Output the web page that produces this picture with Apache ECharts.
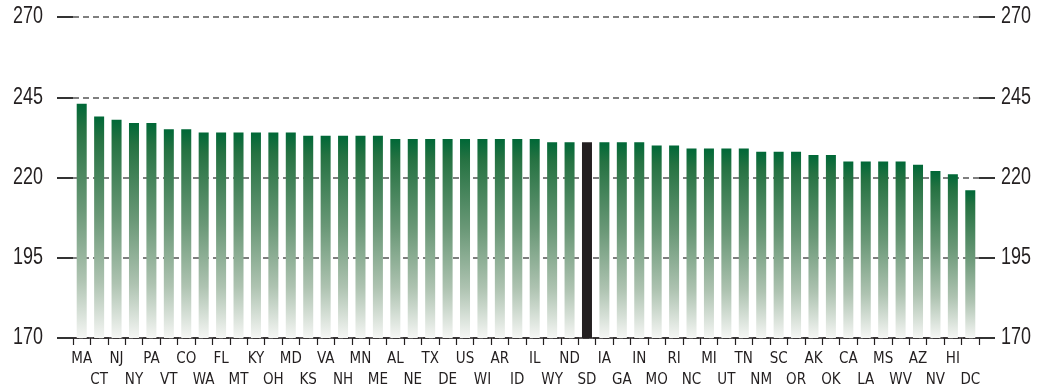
<!DOCTYPE html>
<html>
<head>
<meta charset="utf-8">
<script src="https://cdn.jsdelivr.net/npm/echarts@6/dist/echarts.min.js"></script>
<style>
  html, body { margin: 0; padding: 0; background: #ffffff; }
  #chart { width: 1052px; height: 389px; }
</style>
</head>
<body>
<div id="chart"></div>
<script>
// Average scale scores by jurisdiction, highest to lowest
const states = ['MA','CT','NJ','NY','PA','VT','CO','WA','FL','MT','KY','OH','MD','KS','VA','NH','MN','ME',
  'AL','NE','TX','DE','US','WI','AR','ID','IL','WY','ND','SD','IA','GA','IN','MO','RI','NC','MI','UT',
  'TN','NM','SC','OR','AK','OK','CA','LA','MS','WV','AZ','NV','HI','DC'];
const scores = [243,239,238,237,237,235,235,234,234,234,234,234,234,233,233,233,233,233,
  232,232,232,232,232,232,232,232,232,231,231,231,231,231,231,230,230,229,229,229,
  229,228,228,228,227,227,225,225,225,225,224,222,221,216];
const highlighted = 'SD';
const yTicks = [170, 195, 220, 245, 270];

const GRID = { left: 73, right: 73, top: 17, bottom: 51, containLabel: false, outerBoundsMode: 'none' };
const FONT_X = "'DejaVu Sans Condensed', 'Liberation Sans', sans-serif";
const FONT_Y = "'Liberation Sans', 'DejaVu Sans Condensed', sans-serif";
const INK = '#231f20';

const greenFade = new echarts.graphic.LinearGradient(0, 0, 0, 1, [
  { offset: 0, color: '#006837' },
  { offset: 0.1, color: '#257242' },
  { offset: 0.45, color: '#6a9877' },
  { offset: 0.75, color: '#aec3b1' },
  { offset: 1, color: '#f5f6f4' }
]);

const barData = states.map((s, i) => ({
  value: scores[i],
  itemStyle: { color: s === highlighted ? INK : greenFade }
}));

function valueAxis(side) {
  return {
    type: 'value',
    position: side,
    min: yTicks[0],
    max: yTicks[yTicks.length - 1],
    interval: yTicks[1] - yTicks[0],
    axisLine: { show: false },
    axisTick: { show: true, inside: false, length: 16, lineStyle: { color: '#333', width: 2 } },
    // numbers are drawn below as condensed text
    axisLabel: { show: false },
    splitLine: side === 'left'
      ? { show: true, lineStyle: { color: '#555', width: 1.6, type: [6, 4] } }
      : { show: false }
  };
}

const chart = echarts.init(document.getElementById('chart'));
chart.setOption({
  animation: false,
  grid: GRID,
  xAxis: {
    type: 'category',
    data: states,
    axisLine: { lineStyle: { color: INK, width: 1.6 } },
    axisTick: { show: true, interval: 0, length: 7, lineStyle: { color: INK, width: 1.2 } },
    axisLabel: {
      interval: 0,
      margin: 11,
      color: INK,
      fontFamily: FONT_X,
      fontSize: 15,
      lineHeight: 21,
      formatter: (v, i) => (i % 2 === 1 ? '\n' + v : v)
    }
  },
  yAxis: [valueAxis('left'), valueAxis('right')],
  series: [{
    type: 'bar',
    data: barData,
    barWidth: 10,
    yAxisIndex: 0
  }]
});

// Value-axis numbers in a condensed face, placed on the axis scale
const chartWidth = chart.getWidth();
const yLabels = [];
yTicks.forEach(v => {
  const py = chart.convertToPixel({ yAxisIndex: 0 }, v);
  const common = {
    type: 'text',
    y: py,
    scaleX: 0.78,
    silent: true,
    style: {
      text: String(v),
      fill: INK,
      font: '23px ' + FONT_Y,
      textVerticalAlign: 'middle'
    }
  };
  yLabels.push(Object.assign({}, common, {
    x: GRID.left - 30,
    style: Object.assign({}, common.style, { textAlign: 'right' })
  }));
  yLabels.push(Object.assign({}, common, {
    x: chartWidth - GRID.right + 22,
    style: Object.assign({}, common.style, { textAlign: 'left' })
  }));
});
chart.setOption({ graphic: yLabels });
</script>
</body>
</html>
